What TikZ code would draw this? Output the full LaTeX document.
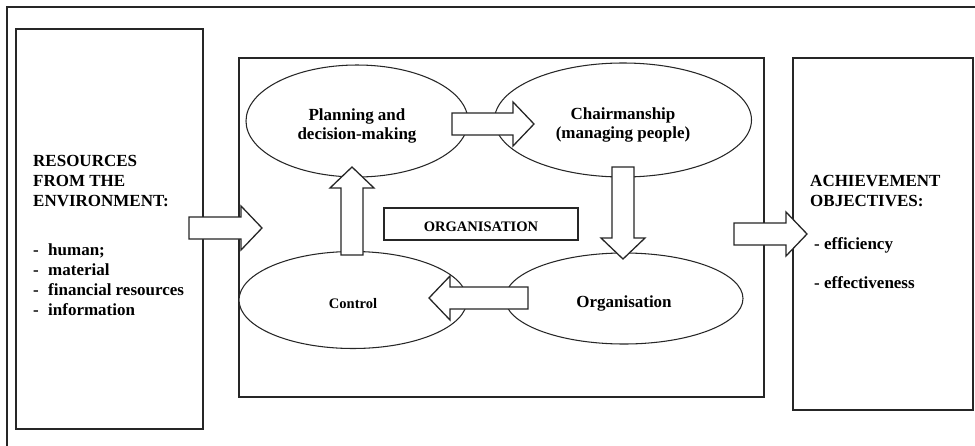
\documentclass[tikz,border=0pt]{standalone}
\usepackage{fontspec}
\setmainfont{Liberation Serif}
\usetikzlibrary{shapes.geometric,calc}

\newcommand{\bigtxt}{\fontsize{14.5pt}{17pt}\selectfont\bfseries}
\newcommand{\smalltxt}{\fontsize{12.4pt}{14.8pt}\selectfont\bfseries}

% white block arrow from #1 to #2 (tip at #2)
\newcommand{\blockarrow}[2]{%
\coordinate (hb) at ($(#2)!0.63cm!(#1)$);
\draw [barrow] ($(#1)!0.33cm!90:(#2)$) -- ($(hb)!0.33cm!90:(#2)$) -- ($(hb)!0.66cm!90:(#2)$) -- (#2)
  -- ($(hb)!0.66cm!-90:(#2)$) -- ($(hb)!0.33cm!-90:(#2)$) -- ($(#1)!0.33cm!-90:(#2)$) -- cycle;
}

\begin{document}
\begin{tikzpicture}[x=0.3cm,y=0.3cm,
  box/.style={draw=black!85,line width=1.1pt,fill=white,inner sep=0pt},
  oval/.style={draw=black!85,line width=0.9pt,fill=white,ellipse,inner sep=0pt},
  ctext/.style={inner sep=0pt,align=center,font=\bigtxt,yshift=-0.15cm},
  barrow/.style={draw=black!85,line width=1.1pt,fill=white,line join=miter},
  txt/.style={inner sep=0pt,anchor=base west,align=left,font=\bigtxt}]
\useasboundingbox (0,0) rectangle (97.5,-44.5);
%frame
\draw [black!85,line width=1.1pt] (0.7,-44.6) -- (0.7,-0.7) -- (97.6,-0.7);
%boxes
\node [box,minimum width=5.61cm,minimum height=12cm] (res) at (10.95,-22.9) {};
\node [box,minimum width=15.75cm,minimum height=10.17cm] (mid) at (50.15,-22.75) {};
\node [box,minimum width=5.4cm,minimum height=10.56cm] (goal) at (88.3,-23.4) {};
\node [txt] (resHead) at (3.3,-20.6) {RESOURCES\\FROM THE\\ENVIRONMENT:};
\node [txt] (resList) at (3.3,-31.5) {\makebox[0.45cm][l]{-}human;\\\makebox[0.45cm][l]{-}material\\\makebox[0.45cm][l]{-}financial resources\\\makebox[0.45cm][l]{-}information};
\node [txt] (goalHead) at (81.0,-20.6) {ACHIEVEMENT\\OBJECTIVES:};
\node [txt] (goalList) at (81.4,-28.8) {- efficiency\\[0.57cm]- effectiveness};
%ellipses
\node [oval,minimum width=6.66cm,minimum height=3.36cm,label={[ctext]center:Planning and\\decision-making}] (plan) at (35.7,-12.1) {};
\node [oval,minimum width=7.71cm,minimum height=3.42cm,label={[ctext]center:Chairmanship\\(managing people)}] (chair) at (62.3,-12.0) {};
\node [oval,minimum width=6.84cm,minimum height=2.91cm,label={[ctext,font=\smalltxt,yshift=0.05cm]center:Control}] (ctrl) at (35.3,-30.0) {};
\node [oval,minimum width=7.14cm,minimum height=2.73cm,label={[ctext]center:Organisation}] (org) at (62.4,-29.85) {};
\node [box,minimum width=5.82cm,minimum height=0.96cm,label={[ctext,font=\smalltxt,yshift=0.06cm]center:ORGANISATION}] (orgBox) at (48.1,-22.4) {};
%arrows
\coordinate (inS) at (18.9,-22.8);
\coordinate (inE) at (26.2,-22.8);
\coordinate (pcS) at (45.2,-12.4);
\coordinate (pcE) at (53.4,-12.4);
\coordinate (upS) at (35.2,-25.5);
\coordinate (upE) at (35.2,-16.7);
\coordinate (dnS) at (62.3,-16.7);
\coordinate (dnE) at (62.3,-25.9);
\coordinate (ltS) at (52.8,-29.8);
\coordinate (ltE) at (42.9,-29.8);
\coordinate (outS) at (73.4,-23.4);
\coordinate (outE) at (80.7,-23.4);
\blockarrow{inS}{inE}
\blockarrow{pcS}{pcE}
\blockarrow{upS}{upE}
\blockarrow{dnS}{dnE}
\blockarrow{ltS}{ltE}
\blockarrow{outS}{outE}
\end{tikzpicture}
\end{document}
